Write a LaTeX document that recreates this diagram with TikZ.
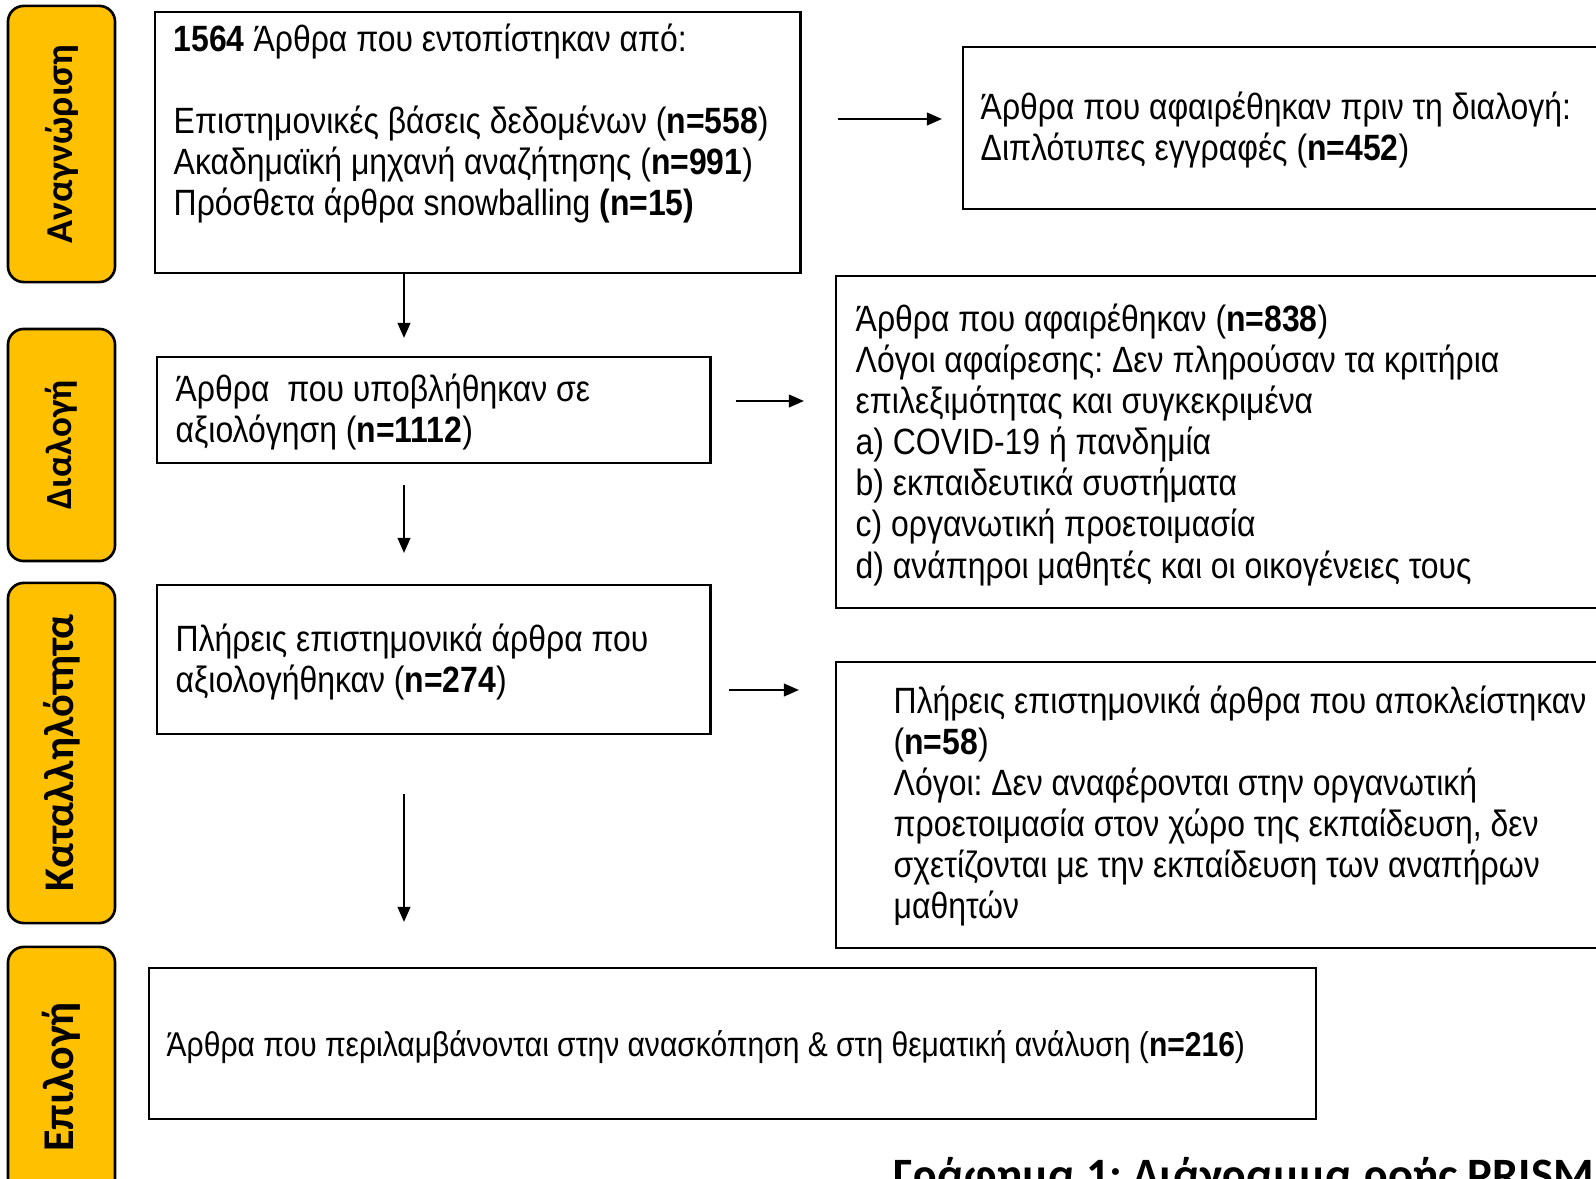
\documentclass[tikz,border=0pt]{standalone}
\usepackage{fontspec}
\setmainfont[FakeStretch=0.873]{Liberation Sans}
\newfontfamily\phasefont{Carlito}
\usetikzlibrary{positioning,calc,arrows.meta}
\definecolor{phasegold}{HTML}{FFC000}
\frenchspacing

\begin{document}
\begin{tikzpicture}[x=0.01cm, y=-0.01cm,
    phase/.style={draw=black, line width=0.75pt, fill=phasegold, rounded corners=4.5pt,
        rotate=90, minimum height=1.07cm},
    box/.style={draw=black, line width=0.65pt, anchor=north west, inner sep=0pt},
    boxtext/.style={anchor=north west, inner sep=0pt, align=left,
        font=\fontsize{10.4}{11.7}\selectfont},
    arr/.style={line width=0.6pt, -{Triangle[length=4.3pt, width=3.6pt]}}]
    \useasboundingbox (0,0) rectangle (1596,1179);
    \clip (0,0) rectangle (1596,1179);

    % Phasen links
    \node[phase, minimum width=2.76cm, font=\phasefont\bfseries\fontsize{10.8}{12}\selectfont] (identification) at (61.5,144) {Αναγνώριση};
    \node[phase, minimum width=2.32cm, font=\phasefont\bfseries\fontsize{10.5}{12}\selectfont] (screening) at (61.5,445) {Διαλογή};
    \node[phase, minimum width=3.40cm, font=\phasefont\bfseries\fontsize{12}{14}\selectfont] (eligibility) at (61.5,753) {Καταλληλότητα};
    \node[phase, minimum width=2.60cm, font=\phasefont\bfseries\fontsize{12.5}{14}\selectfont] (included) at (61.5,1077) {Επιλογή};

    % Kaesten
    \node[box, minimum width=6.45cm, minimum height=2.61cm] (found) at (154,11) {};
    \node[box, minimum width=6.60cm, minimum height=1.62cm] (dupl) at (962,46) {};
    \node[box, minimum width=5.53cm, minimum height=1.06cm] (screened) at (156,356) {};
    \node[box, minimum width=7.80cm, minimum height=3.32cm] (removed) at (835,275) {};
    \node[box, minimum width=5.53cm, minimum height=1.49cm] (fulltext) at (156,584) {};
    \node[box, minimum width=7.80cm, minimum height=2.86cm] (excluded) at (835,661) {};
    \node[box, minimum width=11.66cm, minimum height=1.51cm] (final) at (148,967) {};

    % Texte
    \node[boxtext] (foundtxt) at (173,23) {\textbf{1564} Άρθρα που εντοπίστηκαν από:\\[11.7pt]
        Επιστημονικές βάσεις δεδομένων (\textbf{n=558})\\
        Ακαδημαϊκή μηχανή αναζήτησης (\textbf{n=991})\\
        Πρόσθετα άρθρα snowballing \textbf{(n=15)}};
    \node[boxtext] (dupltxt) at (980,91) {Άρθρα που αφαιρέθηκαν πριν τη διαλογή:\\
        Διπλότυπες εγγραφές (\textbf{n=452})};
    \node[boxtext] (screenedtxt) at (175,373) {Άρθρα\ \ που υποβλήθηκαν σε\\
        αξιολόγηση (\textbf{n=1112})};
    \node[boxtext] (removedtxt) at (855,303) {Άρθρα που αφαιρέθηκαν (\textbf{n=838})\\
        Λόγοι αφαίρεσης: Δεν πληρούσαν τα κριτήρια\\
        επιλεξιμότητας και συγκεκριμένα\\
        a) COVID-19 ή πανδημία\\
        b) εκπαιδευτικά συστήματα\\
        c) οργανωτική προετοιμασία\\
        d) ανάπηροι μαθητές και οι οικογένειες τους};
    \node[boxtext] (fulltexttxt) at (175,623) {Πλήρεις επιστημονικά άρθρα που\\
        αξιολογήθηκαν (\textbf{n=274})};
    \node[boxtext] (excludedtxt) at (893,685) {Πλήρεις επιστημονικά άρθρα που αποκλείστηκαν\\
        (\textbf{n=58})\\
        Λόγοι: Δεν αναφέρονται στην οργανωτική\\
        προετοιμασία στον χώρο της εκπαίδευση, δεν\\
        σχετίζονται με την εκπαίδευση των αναπήρων\\
        μαθητών};
    \node[anchor=west, inner sep=0pt, font=\fontsize{9.78}{11.7}\selectfont] (finaltxt) at (166,1047)
        {Άρθρα που περιλαμβάνονται στην ανασκόπηση \& στη θεματική ανάλυση (\textbf{n=216})};

    % Bildunterschrift
    \node[anchor=base west, inner sep=0pt, font=\phasefont\bfseries\fontsize{13.2}{15}\selectfont] (caption)
        at (893,1190) {Γράφημα 1: Διάγραμμα ροής PRISMA};

    % Pfeile
    \coordinate (col) at (404,0);
    \draw[arr, shorten >=0.18cm] (found.south -| col) -- (screened.north -| col);
    \draw[arr, shorten <=0.21cm, shorten >=0.31cm] (screened.south -| col) -- (fulltext.north -| col);
    \draw[arr, shorten <=0.59cm, shorten >=0.45cm] (fulltext.south -| col) -- (final.north -| col);
    \draw[arr, shorten <=0.36cm, shorten >=0.20cm] ($(found.north east)+(0,108)$) -- ($(dupl.north west)+(0,73)$);
    \draw[arr, shorten <=0.24cm, shorten >=0.31cm] ($(screened.north east)+(0,45)$) -- ($(removed.north west)+(0,126)$);
    \draw[arr, shorten <=0.17cm, shorten >=0.36cm] ($(fulltext.north east)+(0,106)$) -- ($(excluded.north west)+(0,29)$);
\end{tikzpicture}
\end{document}
